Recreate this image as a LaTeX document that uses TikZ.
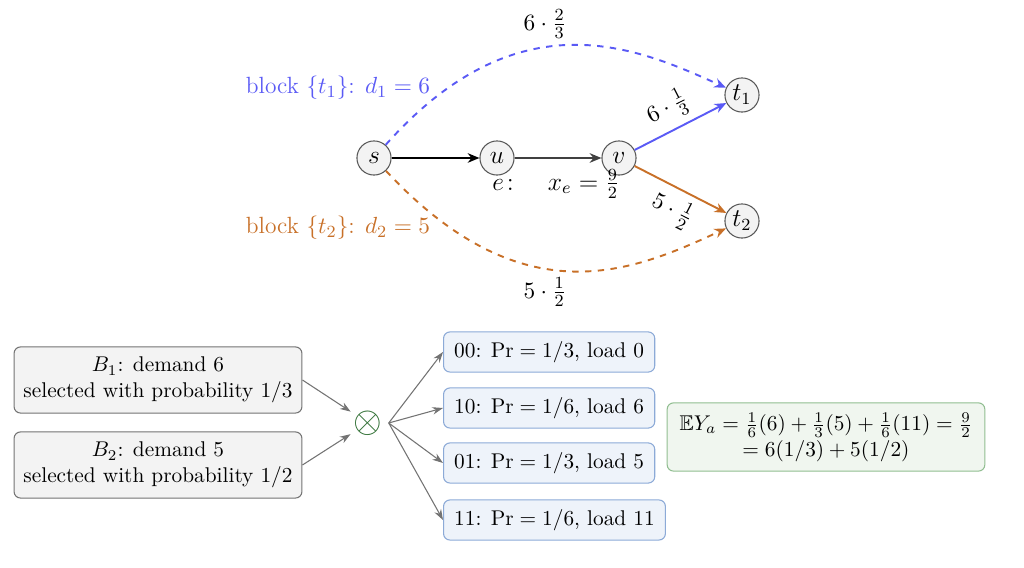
\documentclass[tikz,border=0pt]{standalone}
\usepackage{amsmath,amssymb}
\usetikzlibrary{arrows.meta}
\definecolor{cblue}{RGB}{90,90,245}
\definecolor{corange}{RGB}{200,112,40}
\definecolor{cgreen}{RGB}{46,110,50}
\definecolor{nodefill}{RGB}{243,243,243}
\definecolor{bluefill}{RGB}{238,243,250}
\definecolor{blueline}{RGB}{140,170,215}
\definecolor{greenfill}{RGB}{240,246,239}
\definecolor{greenline}{RGB}{145,190,145}
\begin{document}
\begin{tikzpicture}[x=0.469pt,y=-0.469pt,
  vert/.style={circle,draw=black!65,fill=nodefill,minimum size=16pt,inner sep=0pt,font=\large,line width=0.5pt},
  tip/.style={-{Stealth[length=5.5pt,width=4.5pt]}},
  toplbl/.style={font=\fontsize{11}{13}\selectfont},
  graybox/.style={draw=black!55,fill=nodefill,rounded corners=3pt,align=center,minimum width=135pt,minimum height=31pt,line width=0.5pt},
  outbox/.style={draw=blueline,fill=bluefill,rounded corners=3pt,anchor=west,minimum height=18.8pt,inner xsep=5pt,line width=0.5pt},
  greenbox/.style={draw=greenline,fill=greenfill,rounded corners=3pt,align=center,minimum width=149pt,minimum height=32pt,line width=0.5pt},
  thinarrow/.style={draw=black!55,line width=0.5pt,-{Stealth[length=5pt,width=3.5pt]}}
]
\useasboundingbox (0,0) rectangle (1024,568);

% top graph
\node[vert] (s) at (374,158) {$s$};
\node[vert] (u) at (497,158) {$u$};
\node[vert] (v) at (619,158) {$v$};
\node[vert] (t1) at (742,95) {$t_1$};
\node[vert] (t2) at (742,221) {$t_2$};

\draw[tip,line width=0.8pt] (s) -- (u);
\draw[tip,line width=1.4pt,draw=black!75] (u) -- (v);
\draw[tip,line width=0.9pt,cblue] (v) -- node[toplbl,sloped,above,pos=0.47,text=black] (l3) {$6\cdot\frac{1}{3}$} (t1);
\draw[tip,line width=0.9pt,corange] (v) -- node[toplbl,sloped,below,pos=0.52,text=black] (l4) {$5\cdot\frac{1}{2}$} (t2);

\draw[tip,dashed,line width=0.9pt,cblue] (s) .. controls (519,-5) and (638,48) .. (t1);
\draw[tip,dashed,line width=0.9pt,corange] (s) .. controls (524,319) and (634,271) .. (t2);

\node[toplbl] (l1) at (545,24) {$6\cdot\frac{2}{3}$};
\node[toplbl] (l2) at (545,292) {$5\cdot\frac{1}{2}$};
\node[toplbl,text=cblue] (b1) at (338,88) {block $\{t_1\}$: $d_1=6$};
\node[toplbl,text=corange] (b2) at (338,228) {block $\{t_2\}$: $d_2=5$};
\node[font=\large] (e) at (556,184) {$e\colon\quad x_e=\frac{9}{2}$};

% bottom
\node[graybox] (B1) at (158,380) {$B_1$: demand 6\\selected with probability $1/3$};
\node[graybox] (B2) at (158,465) {$B_2$: demand 5\\selected with probability $1/2$};
\node[circle,inner sep=0.5pt,text=cgreen,font=\LARGE] (x) at (368,423) {$\otimes$};
\draw[thinarrow] (B1.east) -- (x);
\draw[thinarrow] (B2.east) -- (x);

\node[outbox] (o1) at (443,352) {00: $\Pr=1/3$, load 0};
\node[outbox] (o2) at (443,408) {10: $\Pr=1/6$, load 6};
\node[outbox] (o3) at (443,463) {01: $\Pr=1/3$, load 5};
\node[outbox] (o4) at (443,520) {11: $\Pr=1/6$, load 11};
\foreach \o in {o1,o2,o3,o4} \draw[thinarrow] (x.east) -- (\o.west);

\node[greenbox] (g) at (826,437) {$\mathbb{E}Y_a=\frac{1}{6}(6)+\frac{1}{3}(5)+\frac{1}{6}(11)=\frac{9}{2}$\\$=6(1/3)+5(1/2)$};
\end{tikzpicture}
\end{document}
